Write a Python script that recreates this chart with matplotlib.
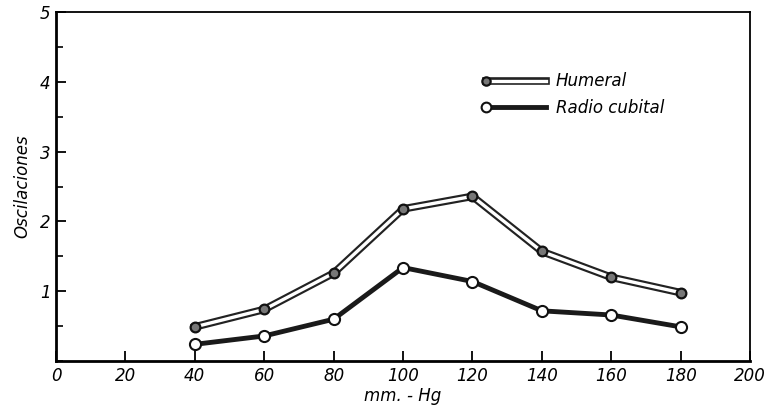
import matplotlib.pyplot as plt
from matplotlib.lines import Line2D
from matplotlib.legend_handler import HandlerTuple, HandlerLine2D
from matplotlib.ticker import MultipleLocator

# presion (mm Hg) y oscilaciones
presion = [40, 60, 80, 100, 120, 140, 160, 180]
humeral = [0.49, 0.74, 1.26, 2.18, 2.36, 1.57, 1.20, 0.98]
radio_cubital = [0.24, 0.36, 0.60, 1.34, 1.14, 0.72, 0.66, 0.49]
xticks = [0, 20, 40, 60, 80, 100, 120, 140, 160, 180, 200]
yticks = [1, 2, 3, 4, 5]


class LeftMarker(HandlerLine2D):
    # marcador solo en el extremo izquierdo de la muestra
    def create_artists(self, legend, orig_handle, xdescent, ydescent, width,
                       height, fontsize, trans):
        arts = super().create_artists(legend, orig_handle, xdescent, ydescent,
                                      width, height, fontsize, trans)
        for a in arts:
            a.set_markevery([0])
        return arts


plt.rcParams['font.family'] = 'DejaVu Sans'
fig = plt.figure(figsize=(7.67, 4.16), dpi=100)
ax = fig.add_axes([0.073, 0.132, 0.905, 0.839])

# humeral: doble trazo (borde negro, interior blanco)
ax.plot(presion, humeral, color='#222222', lw=5.5, zorder=2)
ax.plot(presion, humeral, color='white', lw=2.4, zorder=3)
ax.plot(presion, humeral, ls='none', marker='o', ms=7, mfc='#777777', mec='#111111',
        mew=1.6, zorder=4)

# radio cubital: trazo grueso oscuro, marcadores blancos
ax.plot(presion, radio_cubital, color='#1a1a1a', lw=3.5, zorder=2)
ax.plot(presion, radio_cubital, ls='none', marker='o', ms=8, mfc='white', mec='#111111',
        mew=1.5, zorder=4)

ax.set_xlim(0, 200)
ax.set_ylim(0, 5)
ax.set_xticks(xticks)
ax.set_yticks(yticks)
ax.yaxis.set_minor_locator(MultipleLocator(0.5))
ax.tick_params(direction='in', length=7, width=1.3, labelsize=12, pad=4)
ax.tick_params(axis='y', which='minor', direction='in', length=5, width=1.2)
for lab in ax.get_xticklabels() + ax.get_yticklabels():
    lab.set_fontstyle('italic')
for s in ['left', 'bottom']:
    ax.spines[s].set_linewidth(2.0)
for s in ['top', 'right']:
    ax.spines[s].set_linewidth(1.3)

ax.set_xlabel('mm. - Hg', fontsize=12, fontstyle='italic', labelpad=2)
ax.set_ylabel('Oscilaciones', fontsize=12, fontstyle='italic', labelpad=6)

# leyenda
h_out = Line2D([], [], color='#222222', lw=5.5)
h_in = Line2D([], [], color='white', lw=2.4, marker='o', ms=6, mfc='#777777',
              mec='#111111', mew=1.6)
r_line = Line2D([], [], color='#1a1a1a', lw=3.5, marker='o', ms=7, mfc='white',
                mec='#111111', mew=1.5)
ax.legend([(h_out, h_in), r_line], ['Humeral', 'Radio cubital'],
          handler_map={tuple: HandlerTuple(ndivide=1, pad=0), Line2D: LeftMarker()},
          numpoints=2, loc='upper left', bbox_to_anchor=(0.59, 0.87), frameon=False,
          handlelength=4.2, handletextpad=0.3, labelspacing=0.5,
          prop={'size': 12, 'style': 'italic'})

fig.savefig('out.png', dpi=100, facecolor='white')
